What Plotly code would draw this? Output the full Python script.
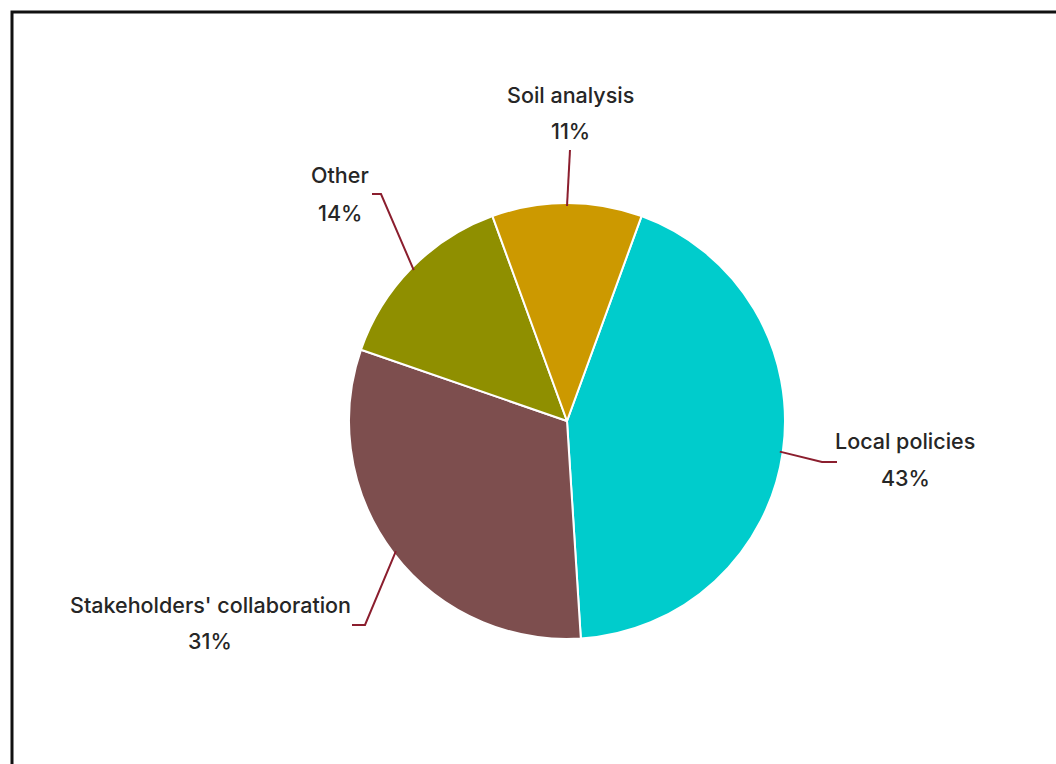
import math
import plotly.graph_objects as go

# ---- data ----
categories = ["Local policies", "Stakeholders' collaboration", "Other", "Soil analysis"]
values = [43, 31, 14, 11]
colors = ["#00CCCC", "#7D4E4E", "#8F8F00", "#CC9900"]

# ---- layout / style ----
W, H = 1056, 764
CX, CY, R = 567, 421, 218          # pie centre and radius in px
ROTATION = 20                      # start angle, clockwise from 12 o'clock
LEADER = "#8B1E2E"
TEXT = "#262626"
FONT = "Inter, Roboto, sans-serif"
# name centre, percent centre, leader elbow / end (px), per category
label_style = {
    "Local policies": dict(name_xy=(905, 441), pct_xy=(905, 478), elbow=(822, 462), end=(837, 462)),
    "Stakeholders' collaboration": dict(name_xy=(210, 605), pct_xy=(210, 641), elbow=(365, 625), end=(352, 625)),
    "Other": dict(name_xy=(340, 175), pct_xy=(340, 213), elbow=(381, 194), end=(372, 194)),
    "Soil analysis": dict(name_xy=(570, 95), pct_xy=(570, 131), elbow=(570, 150), end=(570, 150)),
}


def px(x):
    return x / W


def py(y):
    return 1 - y / H


fig = go.Figure(go.Pie(
    labels=categories,
    values=values,
    sort=False,
    direction="clockwise",
    rotation=ROTATION,
    marker=dict(colors=colors, line=dict(color="white", width=2)),
    textinfo="none",
    hoverinfo="label+percent",
    showlegend=False,
    domain=dict(x=[px(CX - R), px(CX + R)], y=[py(CY + R), py(CY - R)]),
))

total = sum(values)
shapes = []
annotations = []
cum = 0
for cat, v in zip(categories, values):
    mid = ROTATION + (cum + v / 2) / total * 360
    cum += v
    a = math.radians(mid)
    sx = CX + (R - 3) * math.sin(a)
    sy = CY - (R - 3) * math.cos(a)
    st = label_style[cat]
    ex, ey = st["elbow"]
    fx, fy = st["end"]
    path = f"M {px(sx)},{py(sy)} L {px(ex)},{py(ey)} L {px(fx)},{py(fy)}"
    shapes.append(dict(type="path", xref="paper", yref="paper", path=path,
                       line=dict(color=LEADER, width=2)))
    pct = round(v / total * 100)
    for txt, (tx, ty) in ((cat, st["name_xy"]), (f"{pct}%", st["pct_xy"])):
        annotations.append(dict(
            x=px(tx), y=py(ty), xref="paper", yref="paper",
            text=txt, showarrow=False,
            font=dict(family=FONT, size=21.5, color=TEXT, weight=500),
            align="center", xanchor="center", yanchor="middle",
        ))

# outer frame
shapes.append(dict(type="rect", xref="paper", yref="paper",
                   x0=px(12), y0=py(H + 10), x1=px(W + 10), y1=py(12),
                   line=dict(color="#111111", width=3), fillcolor="rgba(0,0,0,0)"))

fig.update_layout(
    width=W, height=H,
    margin=dict(l=0, r=0, t=0, b=0),
    paper_bgcolor="white",
    plot_bgcolor="white",
    shapes=shapes,
    annotations=annotations,
)

fig.write_html("out.html")
